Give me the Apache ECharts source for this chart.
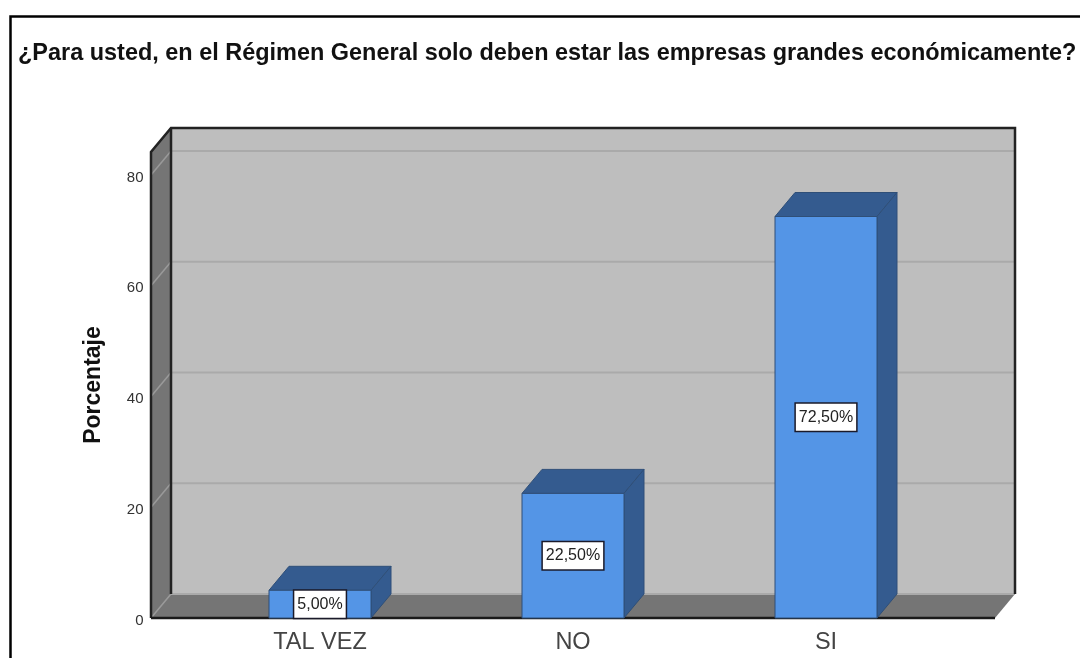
<!DOCTYPE html>
<html><head><meta charset="utf-8">
<style>html,body{margin:0;padding:0;background:#fff}#c{width:1080px;height:658px}</style>
<script src="https://cdn.jsdelivr.net/npm/echarts@6/dist/echarts.min.js"></script>
</head><body><div id="c"></div>
<script>
const categories = ['TAL VEZ', 'NO', 'SI'];
const percentages = [5, 22.5, 72.5];
const barLabels = ['5,00%', '22,50%', '72,50%'];
const gridTicks = [0, 20, 40, 60, 80];
const titleText = '¿Para usted, en el Régimen General solo deben estar las empresas grandes económicamente?';

const DX = 20, DY = -24, PAD = 42.5, BAR_W = 102;
const FONT = '"Liberation Sans", Arial, sans-serif';
const chart = echarts.init(document.getElementById('c'), null, {renderer: 'canvas'});

function poly(points, fill, stroke, lw) {
  return {type: 'polygon', shape: {points}, style: {fill: fill || 'none', stroke: stroke || 'none', lineWidth: lw || 0}};
}
function line(pts, stroke, lw) {
  return {type: 'polyline', shape: {points: pts}, style: {fill: 'none', stroke, lineWidth: lw}};
}
function renderWalls(params, api) {
  const cs = params.coordSys;
  const x0 = cs.x - PAD, x1 = cs.x + cs.width + PAD;
  const yb = cs.y + cs.height, yt = cs.y;
  const c = [
    poly([[x0 + DX, yt + DY], [x1 + DX, yt + DY], [x1 + DX, yb + DY], [x0 + DX, yb + DY]], '#bebebe'),
    poly([[x0, yt], [x0 + DX, yt + DY], [x0 + DX, yb + DY], [x0, yb]], '#757575'),
    poly([[x0, yb], [x0 + DX, yb + DY], [x1 + DX, yb + DY], [x1, yb]], '#757575')
  ];
  gridTicks.forEach(t => {
    const y = api.coord([0, t])[1];
    c.push(line([[x0, y], [x0 + DX, y + DY]], '#9a9a9a', 1.5));
    c.push(line([[x0 + DX, y + DY], [x1 + DX, y + DY]], '#aaaaaa', 2));
  });
  c.push(line([[x1 + DX, yb + DY], [x1 + DX, yt + DY], [x0 + DX, yt + DY], [x0, yt], [x0, yb]], '#222222', 2.5));
  c.push(line([[x0 + DX, yt + DY], [x0 + DX, yb + DY]], '#222222', 2.5));
  c.push(line([[x0, yb], [x1, yb]], '#1a1a1a', 2.5));
  return {type: 'group', children: c, silent: true};
}
function renderBar(params, api) {
  const p = api.coord([api.value(0), api.value(1)]);
  const base = api.coord([api.value(0), 0]);
  const l = p[0] - BAR_W / 2, r = p[0] + BAR_W / 2, t = p[1], b = base[1];
  const edge = '#2f4f78';
  return {type: 'group', children: [
    poly([[l, t], [l + DX, t + DY], [r + DX, t + DY], [r, t]], '#345b8f', edge, 1),
    poly([[r, t], [r + DX, t + DY], [r + DX, b + DY], [r, b]], '#345b8f', edge, 1),
    poly([[l, t], [r, t], [r, b], [l, b]], '#5495e6', edge, 1)
  ]};
}
function renderLabel(params, api) {
  const p = api.coord([api.value(0), api.value(1) / 2]);
  const text = barLabels[params.dataIndex];
  return {type: 'text', x: p[0], y: p[1], style: {
    text, fill: '#222', font: '16px ' + FONT, align: 'center', verticalAlign: 'middle',
    backgroundColor: '#fff', borderColor: '#1a1a2a', borderWidth: 1.5, padding: [6, 3, 5, 3]
  }};
}
const barData = categories.map((c, i) => [i, percentages[i]]);
chart.setOption({
  animation: false,
  backgroundColor: '#fff',
  title: {text: titleText, left: 18, top: 42, padding: 0,
    textStyle: {fontFamily: FONT, fontSize: 23.46, fontWeight: 'bold', color: '#111'}},
  grid: {left: 193.5, width: 759, top: 152, height: 466},
  xAxis: {type: 'category', data: categories, boundaryGap: true,
    axisLine: {show: false}, axisTick: {show: false}, splitLine: {show: false},
    axisLabel: {margin: 13, fontFamily: FONT, fontSize: 23.5, color: '#444'}},
  yAxis: {type: 'value', min: 0, max: 84.15, interval: 20,
    name: 'Porcentaje', nameLocation: 'middle', nameGap: 88, nameRotate: 90,
    nameTextStyle: {fontFamily: FONT, fontSize: 23, fontWeight: 'bold', color: '#111'},
    axisLine: {show: false}, axisTick: {show: false}, splitLine: {show: false},
    axisLabel: {margin: 50, showMaxLabel: false, fontFamily: FONT, fontSize: 15, color: '#333', verticalAlign: 'top', lineHeight: 5}},
  graphic: [{type: 'polyline', z: 100, silent: true, shape: {points: [[10.5, 670], [10.5, 16.5], [1090, 16.5]]},
    style: {fill: 'none', stroke: '#000', lineWidth: 2.5}}],
  series: [
    {type: 'custom', z: 1, clip: false, renderItem: renderWalls, data: [[0, 0]], silent: true, encode: {x: 0, y: 1}},
    {type: 'custom', z: 2, clip: false, renderItem: renderBar, data: barData, encode: {x: 0, y: 1}},
    {type: 'custom', z: 3, clip: false, renderItem: renderLabel, data: barData, encode: {x: 0, y: 1}}
  ]
});
</script></body></html>
